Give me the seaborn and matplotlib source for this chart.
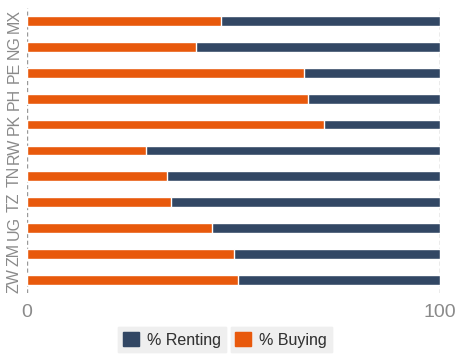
import matplotlib
matplotlib.use('Agg')
import matplotlib.pyplot as plt
import seaborn as sns
import pandas as pd
from matplotlib.patches import Patch

countries = ['MX', 'NG', 'PE', 'PH', 'PK', 'RW', 'TN', 'TZ', 'UG', 'ZM', 'ZW']
pct_buying = [47.0, 40.9, 67.1, 68.0, 71.9, 28.8, 33.9, 34.9, 44.8, 50.1, 51.1]
pct_renting = [100 - b for b in pct_buying]

df = pd.DataFrame({'country': countries, 'buying': pct_buying, 'renting': pct_renting})
df['total'] = df['buying'] + df['renting']

navy = '#324764'
orange = '#E8590C'
gray = '#8a8a8a'

sns.set_style('white')
plt.rcParams['font.family'] = ['Liberation Sans', 'DejaVu Sans']
fig = plt.figure(figsize=(4.58, 3.6), dpi=100)
ax = fig.add_axes([0.059, 0.186, 0.902, 0.792])

# stacked: total (navy) behind, buying (orange) on top
sns.barplot(data=df, x='total', y='country', color=navy, width=0.38, saturation=1,
            ax=ax, orient='h')
sns.barplot(data=df, x='buying', y='country', color=orange, width=0.38, saturation=1,
            ax=ax, orient='h')

ax.set_xlim(0, 100)
ax.set_ylim(len(countries) - 0.5, -0.5)
ax.set_xticks([0, 100])
ax.set_xticklabels(['0', '100'])
ax.tick_params(axis='x', colors=gray, labelsize=14, length=0, pad=8)
ax.tick_params(axis='y', colors=gray, labelsize=11.5, length=0, pad=4)
for lab in ax.get_yticklabels():
    lab.set_rotation(90)
    lab.set_va('center')
ax.set_xlabel('')
ax.set_ylabel('')
for s in ax.spines.values():
    s.set_visible(False)
for xv in [0, 100]:
    ax.axvline(xv, color='#999999', linestyle=(0, (3, 2)), linewidth=1, zorder=0)


def legend_box(color, label, xc):
    leg = fig.legend(handles=[Patch(facecolor=color, edgecolor=color)], labels=[label],
                     loc='center', bbox_to_anchor=(xc, 0.056), frameon=True, fontsize=11.5,
                     handlelength=1.0, handleheight=1.0, handletextpad=0.5, borderpad=0.3,
                     fancybox=False)
    leg.get_frame().set_facecolor('#efefef')
    leg.get_frame().set_edgecolor('#efefef')
    for t in leg.get_texts():
        t.set_color('#333333')
    fig.add_artist(leg)


legend_box(navy, '% Renting', 0.376)
legend_box(orange, '% Buying', 0.614)

fig.savefig('out.png', dpi=100)
